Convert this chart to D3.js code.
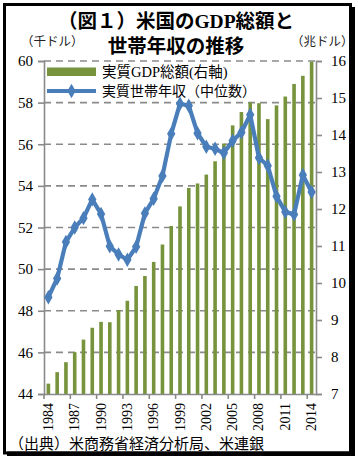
<!DOCTYPE html>
<html><head><meta charset="utf-8">
<script src="https://cdn.jsdelivr.net/npm/d3@7"></script>
<style>
html,body{margin:0;padding:0;background:#fff;}
svg{display:block;}
</style></head>
<body>
<script>
const years = [1984,1985,1986,1987,1988,1989,1990,1991,1992,1993,1994,1995,1996,1997,1998,1999,2000,2001,2002,2003,2004,2005,2006,2007,2008,2009,2010,2011,2012,2013,2014];
const gdpTrillion = [7.28,7.59,7.86,8.13,8.47,8.79,8.95,8.94,9.27,9.52,9.92,10.19,10.57,11.04,11.54,12.07,12.57,12.69,12.93,13.29,13.77,14.26,14.62,14.88,14.86,14.43,14.80,15.04,15.38,15.60,15.98];
const incomeThousand = [48.65,49.55,51.30,52.00,52.45,53.35,52.65,51.10,50.70,50.45,51.07,52.68,53.38,54.48,56.50,57.95,57.85,56.53,55.88,55.78,55.58,56.17,56.57,57.42,55.35,54.97,53.50,52.75,52.63,54.52,53.70];
const leftTicks = [44,46,48,50,52,54,56,58,60];
const rightTicks = [7,8,9,10,11,12,13,14,15,16];
const xLabelYears = [1984,1987,1990,1993,1996,1999,2002,2005,2008,2011,2014];
const titleLines = ["（図１）米国のGDP総額と","世帯年収の推移"];
const leftUnit = "（千ドル）", rightUnit = "（兆ドル）";
const legendLabels = ["実質GDP総額(右軸)","実質世帯年収（中位数）"];
const sourceText = "（出典）米商務省経済分析局、米連銀";

const W = 358, H = 462;
const L = 44, R = 316, T = 61, B = 394;
const serif = "'Liberation Serif','Noto Sans CJK JP',serif";
const green = "#77933c", blue = "#4a7ebb", gray = "#8a8a8a";

const svg = d3.select("body").append("svg").attr("width", W).attr("height", H);
svg.append("rect").attr("width", W).attr("height", H).attr("fill", "#fff");

const x = d3.scaleBand().domain(years).range([L, R]).padding(0);
const yL = d3.scaleLinear().domain([44, 60]).range([B, T]);
const yR = d3.scaleLinear().domain([7, 16]).range([B, T]);

// gridlines
svg.append("g").selectAll("line").data(leftTicks.filter(d => d > 44)).join("line")
  .attr("x1", L).attr("x2", R).attr("y1", d => yL(d)).attr("y2", d => yL(d))
  .attr("stroke", gray).attr("stroke-width", 1.6).attr("stroke-dasharray", "7,5");

// bars
const bw = 3.6;
svg.append("g").selectAll("rect").data(years).join("rect")
  .attr("x", (d) => x(d) + x.bandwidth() / 2 - bw / 2)
  .attr("width", bw)
  .attr("y", (d, i) => yR(gdpTrillion[i]))
  .attr("height", (d, i) => B - yR(gdpTrillion[i]))
  .attr("fill", green);

// axes
const axL = d3.axisLeft(yL).tickValues(leftTicks).tickSize(6).tickPadding(5).tickFormat(d3.format("d"));
const gL = svg.append("g").attr("transform", `translate(${L},0)`).call(axL);
const axR = d3.axisRight(yR).tickValues(rightTicks).tickSize(6).tickPadding(9).tickFormat(d3.format("d"));
const gR = svg.append("g").attr("transform", `translate(${R},0)`).call(axR);
const axB = d3.axisBottom(x).tickValues(xLabelYears).tickSize(0).tickPadding(0);
const gB = svg.append("g").attr("transform", `translate(0,${B})`).call(axB);
[gL, gR, gB].forEach(g => {
  g.selectAll(".domain").attr("stroke", gray).attr("stroke-width", 1.6);
  g.selectAll(".tick line").attr("stroke", gray).attr("stroke-width", 1.6);
  g.selectAll("text").attr("font-family", serif).attr("fill", "#000");
});
gL.selectAll("text").attr("font-size", 15);
gR.selectAll("text").attr("font-size", 15);
gB.selectAll("text").attr("font-size", 14)
  .attr("text-anchor", "end").attr("dy", null).attr("y", 0)
  .attr("transform", "translate(0,9) rotate(-90)")
  .attr("dominant-baseline", "central");
// bottom ticks between categories, every 3 years
svg.append("g").selectAll("line").data(xLabelYears).join("line")
  .attr("x1", d => x(d)).attr("x2", d => x(d))
  .attr("y1", B).attr("y2", B + 5)
  .attr("stroke", gray).attr("stroke-width", 1.6);

// line
const line = d3.line().x((d, i) => x(years[i]) + x.bandwidth() / 2).y(d => yL(d));
svg.append("path").datum(incomeThousand).attr("d", line)
  .attr("fill", "none").attr("stroke", blue).attr("stroke-width", 4.2).attr("stroke-linejoin", "round");
const diamond = d3.symbol().type(d3.symbolDiamond).size(60);
svg.append("g").selectAll("path").data(incomeThousand).join("path")
  .attr("d", diamond)
  .attr("transform", (d, i) => `translate(${x(years[i]) + x.bandwidth() / 2},${yL(d)})`)
  .attr("fill", blue);

// legend
svg.append("rect").attr("x", 47).attr("y", 67.5).attr("width", 49).attr("height", 8.5).attr("fill", green);
svg.append("line").attr("x1", 47).attr("x2", 96).attr("y1", 91).attr("y2", 91)
  .attr("stroke", blue).attr("stroke-width", 4.2);
svg.append("path").attr("d", diamond).attr("transform", "translate(71.5,91)").attr("fill", blue);
svg.append("text").attr("x", 102).attr("y", 77).text(legendLabels[0])
  .attr("font-family", serif).attr("font-size", 14.5);
svg.append("text").attr("x", 102).attr("y", 96).text(legendLabels[1])
  .attr("font-family", serif).attr("font-size", 14);

// titles
svg.append("text").attr("x", 176).attr("y", 28).attr("text-anchor", "middle").text(titleLines[0])
  .attr("font-family", serif).attr("font-size", 19.5).attr("font-weight", "bold");
svg.append("text").attr("x", 176).attr("y", 53).attr("text-anchor", "middle").text(titleLines[1])
  .attr("font-family", serif).attr("font-size", 19.5).attr("font-weight", "bold");
svg.append("text").attr("x", 21).attr("y", 46).text(leftUnit)
  .attr("font-family", serif).attr("font-size", 12.5).attr("fill", "#222");
svg.append("text").attr("x", 291).attr("y", 46).text(rightUnit)
  .attr("font-family", serif).attr("font-size", 12.5).attr("fill", "#222");

// source
svg.append("text").attr("x", 9).attr("y", 449).text(sourceText)
  .attr("font-family", serif).attr("font-size", 15);

// frame
svg.append("rect").attr("x", 4.5).attr("y", 4.5).attr("width", 346).attr("height", 448.5)
  .attr("fill", "none").attr("stroke", "#000").attr("stroke-width", 3);
svg.append("rect").attr("x", 350).attr("y", 7).attr("width", 5).attr("height", 449).attr("fill", "#000");
svg.append("rect").attr("x", 7).attr("y", 451.5).attr("width", 348).attr("height", 4.5).attr("fill", "#000");
</script>
</body></html>
